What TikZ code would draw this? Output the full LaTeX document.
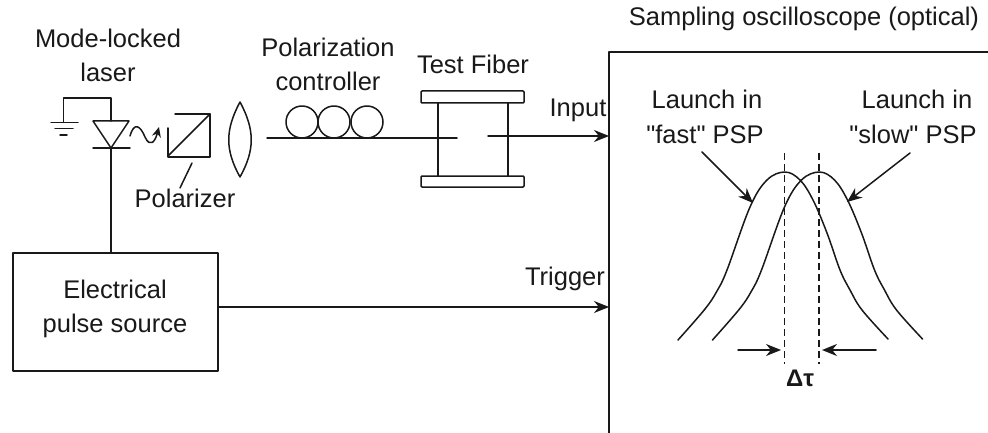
\documentclass[tikz,border=0pt]{standalone}
\usepackage{fontspec}
\newfontfamily\lsans{Liberation Sans}
\usetikzlibrary{arrows.meta}
\tikzset{
  ln/.style={line width=1.5pt,line cap=round,line join=round,black!90},
  arr/.style={ln,-{Stealth[length=15pt,width=12pt]}},
  lab/.style={anchor=base,inner sep=0pt,outer sep=0pt,font=\lsans\fontsize{25.5}{30}\selectfont,black!90},
  blk/.style={draw,ln,inner sep=0pt,outer sep=0pt},
  dsh/.style={line width=1.7pt,black!90,dash pattern=on 7pt off 4pt}
}
\begin{document}
\begin{tikzpicture}[x=1pt,y=-1pt]
\useasboundingbox[fill=white] (0,0) rectangle (988,433);
% labels
\node[lab] (tmode) at (108,48) {Mode-locked};
\node[lab] (tlaser) at (108,82) {laser};
\node[lab] (tpol) at (328,57) {Polarization};
\node[lab] (tctrl) at (328,91) {controller};
\node[lab] (tfib) at (473,74) {Test Fiber};
\node[lab] (tin) at (578,117) {Input};
\node[lab] (ttrig) at (565,285) {Trigger};
\node[lab] (tpolz) at (185,207) {Polarizer};
\node[lab] (tsamp) at (804,26) {Sampling oscilloscope (optical)};
\node[lab] (tl1) at (707,109) {Launch in};
\node[lab] (tf1) at (705,143) {"fast" PSP};
\node[lab] (tl2) at (917,109) {Launch in};
\node[lab] (tf2) at (913,143) {"slow" PSP};
\node[lab,font=\lsans\bfseries\fontsize{24}{28}\selectfont] (tdt) at (800,386) {Δτ};
% pulse source
\node[blk,minimum width=205pt,minimum height=118pt,anchor=north west] (src) at (13,253) {};
\node[lab] (te) at (115,298) {Electrical};
\node[lab] (tp) at (115,332) {pulse source};
% ground and diode
\coordinate (gv) at (63.5,122.5);
\coordinate (gc) at (63.5,98);
\coordinate (dc) at (111,98);
\coordinate (dtop) at (111,121);
\coordinate (dapex) at (111,148);
\draw[ln] (gv) -- (gc) -- (dc) -- (dtop);
\draw[ln] (51,122.5) -- (78,122.5);
\draw[ln] (55,128.5) -- (73,128.5);
\draw[ln] (60,135) -- (67,135);
\draw[ln] (93,121) -- (129,121) -- (dapex) -- cycle;
\draw[ln] (93,148) -- (130,148);
\draw[ln] (dapex) -- (dapex |- src.north);
% wavy light
\draw[ln,-{Stealth[length=10pt,width=9pt]}] (130,136) .. controls (134,122) and (140,125) .. (145,137) .. controls (150,148) and (155,142) .. (159,127);
% polarizer
\draw[ln] (175,114) -- (210,114) -- (210,157) -- (168,157) -- (168,128);
\draw[ln] (168,156) -- (210,114);
\draw[ln] (192,163) -- (180,188);
% lens
\draw[ln] (240,102) .. controls (225,130) and (225,150) .. (240,177) .. controls (255,150) and (255,130) .. (240,102) -- cycle;
% controller
\coordinate (fa) at (267,138);
\coordinate (fb) at (457,138);
\draw[ln] (fa) -- (fb);
\draw[ln] (302,122) circle (16);
\draw[ln] (334,122) circle (16);
\draw[ln] (367,122) circle (16);
% test fibre
\node[blk,minimum width=103pt,minimum height=12pt,anchor=north west,rounded corners=1pt] (fl1) at (421,91) {};
\node[blk,minimum width=103pt,minimum height=11pt,anchor=north west,rounded corners=1pt] (fl2) at (421,176) {};
\draw[ln] (438,103) -- (438,176);
\draw[ln] (508,103) -- (508,176);
% scope
\coordinate (sc1) at (609,433);
\coordinate (sc2) at (609,52);
\coordinate (sc3) at (988,52);
\draw[ln] (sc1) -- (sc2) -- (sc3);
\coordinate (fc) at (488,136);
\draw[arr] (fc) -- (fc -| sc2);
\coordinate (tr) at (src.east |- 0,307);
\draw[arr] (tr) -- (tr -| sc2);
% pulses
\foreach \s in {0,34.5}{
\draw[ln,xshift=\s pt] plot[smooth,tension=0.6] coordinates {(678,340) (705,309) (717,291) (727,270) (750,207) (767,180) (785,172) (800,180) (813,200) (827,233) (840,270) (850,290) (862,310) (888,339)};
}
\draw[dsh] (784.5,153) -- (784.5,364);
\draw[dsh] (819,153) -- (819,364);
\coordinate (a1) at (702,152); \coordinate (a1e) at (753,203);
\coordinate (a2) at (910,153); \coordinate (a2e) at (847,202);
\draw[arr] (a1) -- (a1e);
\draw[arr] (a2) -- (a2e);
\coordinate (d1) at (738,350); \coordinate (d1e) at (781,350);
\coordinate (d2) at (876,350); \coordinate (d2e) at (822,350);
\draw[arr] (d1) -- (d1e);
\draw[arr] (d2) -- (d2e);
\end{tikzpicture}
\end{document}
